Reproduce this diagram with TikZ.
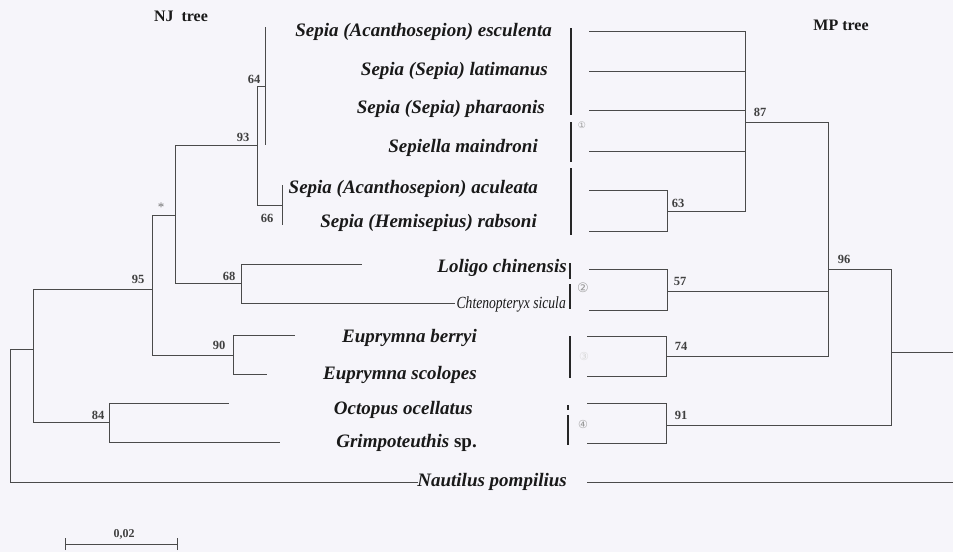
\documentclass[tikz,border=0pt]{standalone}
\usepackage{fontspec}
\setmainfont{Liberation Serif}
\newfontfamily\circfont{DejaVu Sans}
\definecolor{bg}{HTML}{F6F5FA}
\definecolor{ln}{HTML}{4A4A4A}
\begin{document}
\begin{tikzpicture}[x=1pt,y=-1pt,
  br/.style={draw=ln, line width=0.9pt},
  grp/.style={draw=black!85, line width=2.4pt},
  taxon/.style={anchor=base east, inner sep=0pt, font=\fontsize{19}{22}\selectfont\bfseries\itshape, text=black!90},
  boot/.style={inner sep=0pt, font=\fontsize{12.5}{15}\selectfont\bfseries, text=black!75},
  ttl/.style={inner sep=0pt, font=\fontsize{16}{18}\selectfont\bfseries, text=black!90},
  circ/.style={inner sep=0pt, font=\circfont\fontsize{11}{13}\selectfont, text=black!40}]
\fill[bg] (0,0) rectangle (953,552);
\useasboundingbox (0,0) rectangle (953,552);

% ---------- titles ----------
\node[ttl] (tnj) at (181,16) {NJ\ \ tree};
\node[ttl] (tmp) at (841,25) {MP tree};

% ---------- taxa ----------
\node[taxon] (t1) at (552,36) {Sepia (Acanthosepion) esculenta};
\node[taxon] (t2) at (548,75) {Sepia (Sepia) latimanus};
\node[taxon] (t3) at (545,113) {Sepia (Sepia) pharaonis};
\node[taxon] (t4) at (538,152) {Sepiella maindroni};
\node[taxon] (t5) at (538,193) {Sepia (Acanthosepion) aculeata};
\node[taxon] (t6) at (537,227) {Sepia (Hemisepius) rabsoni};
\node[taxon] (t7) at (567,272) {Loligo chinensis};
\node[taxon, font=\fontsize{17}{20}\selectfont\itshape] (t8) at (566,308) {\scalebox{0.8}[1]{Chtenopteryx sicula}};
\node[taxon] (t9) at (477,342) {Euprymna berryi};
\node[taxon] (t10) at (477,379) {Euprymna scolopes};
\node[taxon] (t11) at (473,414) {Octopus ocellatus};
\node[taxon] (t12) at (477,447) {Grimpoteuthis \upshape sp.};
\node[taxon] (t13) at (567,486) {Nautilus pompilius};

% ---------- NJ tree ----------
\coordinate (nroot) at (10,349);
\coordinate (nA) at (33,349);
\coordinate (nB) at (152,289);
\coordinate (nI) at (109,422);
\coordinate (nC) at (175,215);
\coordinate (nH) at (233,355);
\coordinate (nD) at (257,145);
\coordinate (nG) at (241,283);
\coordinate (nE) at (265,86);
\coordinate (nF) at (282,205);
\coordinate (lE1) at (265,27);
\coordinate (lE4) at (265,145);
\coordinate (lF1) at (282,185);
\coordinate (lF2) at (282,225);
\coordinate (lLol) at (362,264);
\coordinate (lCht) at (455,303);
\coordinate (lBer) at (295,335);
\coordinate (lSco) at (267,374);
\coordinate (lOct) at (229,403);
\coordinate (lGri) at (280,442);
\coordinate (lNau) at (418,482);

\draw[br] (nroot) -- (nA);
\draw[br] (nroot) |- (lNau);
\draw[br] (nA) |- (nB);
\draw[br] (nA) |- (nI);
\draw[br] (nB) |- (nC);
\draw[br] (nB) |- (nH);
\draw[br] (nC) |- (nD);
\draw[br] (nC) |- (nG);
\draw[br] (nD) |- (nE);
\draw[br] (nD) |- (nF);
\draw[br] (lE1) -- (lE4);
\draw[br] (lF1) -- (lF2);
\draw[br] (nG) |- (lLol);
\draw[br] (nG) |- (lCht);
\draw[br] (nH) |- (lBer);
\draw[br] (nH) |- (lSco);
\draw[br] (nI) |- (lOct);
\draw[br] (nI) |- (lGri);

% NJ support values
\node[boot] (b64) at (254,79) {64};
\node[boot] (b93) at (243,137) {93};
\node[boot] (b66) at (267,218) {66};
\node[boot, font=\fontsize{13}{15}\selectfont, text=black!55] (bst) at (161,207) {*};
\node[boot] (b68) at (229,276) {68};
\node[boot] (b95) at (138,279) {95};
\node[boot] (b90) at (219,345) {90};
\node[boot] (b84) at (98,415) {84};

% ---------- MP tree ----------
\coordinate (mR) at (891,352);
\coordinate (mRend) at (953,352);
\coordinate (m96) at (828,269);
\coordinate (m91) at (666,425);
\coordinate (m87) at (745,122);
\coordinate (m57) at (667,291);
\coordinate (m74) at (666,356);
\coordinate (m63) at (667,211);
\coordinate (p1) at (589,31);
\coordinate (p2) at (589,71);
\coordinate (p3) at (589,110);
\coordinate (p4) at (589,151);
\coordinate (p5) at (589,190);
\coordinate (p6) at (589,231);
\coordinate (p7) at (589,269);
\coordinate (p8) at (589,310);
\coordinate (p9) at (587,336);
\coordinate (p10) at (587,376);
\coordinate (p11) at (587,403);
\coordinate (p12) at (587,443);
\coordinate (pN1) at (587,482);
\coordinate (pN2) at (953,482);

\draw[br] (mR) -- (mRend);
\draw[br] (mR) |- (m96);
\draw[br] (mR) |- (m91);
\draw[br] (m96) |- (m87);
\draw[br] (m96) |- (m57);
\draw[br] (m96) |- (m74);
\draw[br] (m87) |- (p1);
\draw[br] (m87) |- (p2);
\draw[br] (m87) |- (p3);
\draw[br] (m87) |- (p4);
\draw[br] (m87) |- (m63);
\draw[br] (m63) |- (p5);
\draw[br] (m63) |- (p6);
\draw[br] (m57) |- (p7);
\draw[br] (m57) |- (p8);
\draw[br] (m74) |- (p9);
\draw[br] (m74) |- (p10);
\draw[br] (m91) |- (p11);
\draw[br] (m91) |- (p12);
\draw[br] (pN1) -- (pN2);

% MP support values
\node[boot] (b87) at (760,112) {87};
\node[boot] (b63) at (678,203) {63};
\node[boot] (b57) at (680,281) {57};
\node[boot] (b74) at (681,346) {74};
\node[boot] (b96) at (844,259) {96};
\node[boot] (b91) at (681,415) {91};

% ---------- group bars ----------
\coordinate (g1a) at (571,28);  \coordinate (g1b) at (571,115);
\coordinate (g1c) at (571,122); \coordinate (g1d) at (571,162);
\coordinate (g1e) at (571,168); \coordinate (g1f) at (571,235);
\coordinate (g2a) at (570,263); \coordinate (g2b) at (570,279);
\coordinate (g2c) at (570,284); \coordinate (g2d) at (570,309);
\coordinate (g3a) at (570,336); \coordinate (g3b) at (570,378);
\coordinate (g4a) at (568,405); \coordinate (g4b) at (568,410);
\coordinate (g4c) at (568,415); \coordinate (g4d) at (568,445);
\draw[grp] (g1a) -- (g1b);
\draw[grp] (g1c) -- (g1d);
\draw[grp] (g1e) -- (g1f);
\draw[grp] (g2a) -- (g2b);
\draw[grp] (g2c) -- (g2d);
\draw[grp] (g3a) -- (g3b);
\draw[grp] (g4a) -- (g4b);
\draw[grp] (g4c) -- (g4d);
\node[circ, font=\circfont\fontsize{9}{11}\selectfont] (c1) at (582,125) {①};
\node[circ, font=\circfont\fontsize{13}{15}\selectfont] (c2) at (583,288) {②};
\node[circ, text=black!15] (c3) at (584,356) {③};
\node[circ] (c4) at (583,424) {④};

% ---------- scale bar ----------
\coordinate (s1) at (65,544);
\coordinate (s2) at (177,544);
\draw[br] (s1) -- (s2);
\draw[br] ([yshift=-6pt]s1) -- ([yshift=6pt]s1);
\draw[br] ([yshift=-6pt]s2) -- ([yshift=6pt]s2);
\node[boot, font=\fontsize{12}{14}\selectfont\bfseries] (slab) at (124,534) {0,02};
\end{tikzpicture}
\end{document}
